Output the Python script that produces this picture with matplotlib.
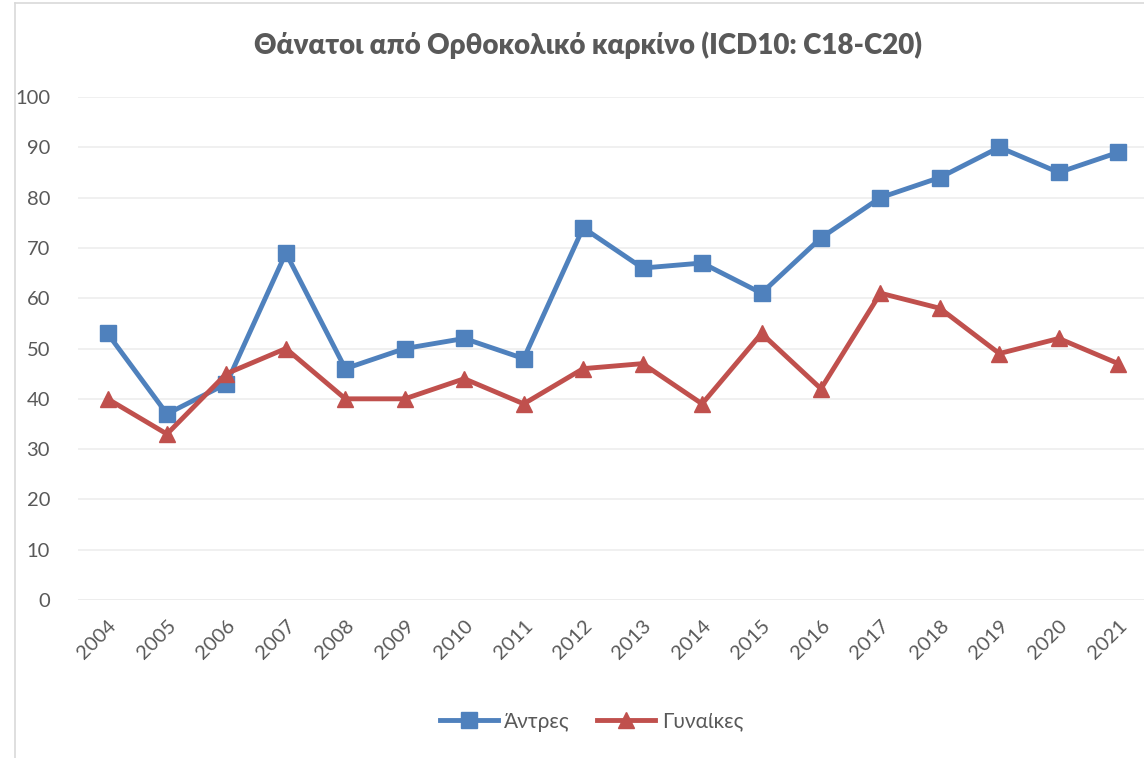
import matplotlib
matplotlib.use("Agg")
import matplotlib.pyplot as plt
from matplotlib.lines import Line2D

plt.rcParams['font.family'] = ['Lato', 'DejaVu Sans']

years = ['2004', '2005', '2006', '2007', '2008', '2009', '2010', '2011', '2012',
         '2013', '2014', '2015', '2016', '2017', '2018', '2019', '2020', '2021']
men = [53, 37, 43, 69, 46, 50, 52, 48, 74, 66, 67, 61, 72, 80, 84, 90, 85, 89]
women = [40, 33, 45, 50, 40, 40, 44, 39, 46, 47, 39, 53, 42, 61, 58, 49, 52, 47]
yticks = [0, 10, 20, 30, 40, 50, 60, 70, 80, 90, 100]

blue = '#4F81BD'
red = '#C0504D'
grey = '#595959'

fig = plt.figure(figsize=(11.44, 7.58), dpi=100)
ax = fig.add_axes([0.068, 0.2084, 0.9355, 0.6636])

x = range(len(years))
ax.plot(x, men, color=blue, lw=3.5, marker='s', ms=11, label='Άντρες')
ax.plot(x, women, color=red, lw=3.5, marker='^', ms=11, label='Γυναίκες')

ax.set_xlim(-0.5, len(years) - 0.5)
ax.set_ylim(0, 100)
ax.set_yticks(yticks)
ax.set_xticks(list(x))
ax.set_xticklabels(years, rotation=45, ha='right', rotation_mode='anchor')
ax.tick_params(colors=grey, labelsize=14.5, length=0)
ax.tick_params(axis='y', pad=20)
ax.tick_params(axis='x', pad=12)
ax.grid(axis='y', color='#EFEFEF', lw=1.3)
ax.set_axisbelow(True)
for s in ax.spines.values():
    s.set_visible(False)
ax.axhline(0, color='#D9D9D9', lw=1.3, zorder=0.5)

fig.text(0.514, 0.94, 'Θάνατοι από Ορθοκολικό καρκίνο (ICD10: C18-C20)',
         ha='center', va='center', fontsize=20, fontweight='heavy', color=grey)

fig.legend(loc='center', bbox_to_anchor=(0.517, 0.048), ncol=2, frameon=False,
           fontsize=15, labelcolor=grey, handlelength=2.8, columnspacing=1.3,
           handletextpad=0.3)

# chart border (cropped)
fig.add_artist(Line2D([0.013, 0.013], [0, 0.996], color='#D9D9D9', lw=1.2))
fig.add_artist(Line2D([0.013, 1], [0.996, 0.996], color='#D9D9D9', lw=1.2))

fig.savefig('out.png', dpi=100)
